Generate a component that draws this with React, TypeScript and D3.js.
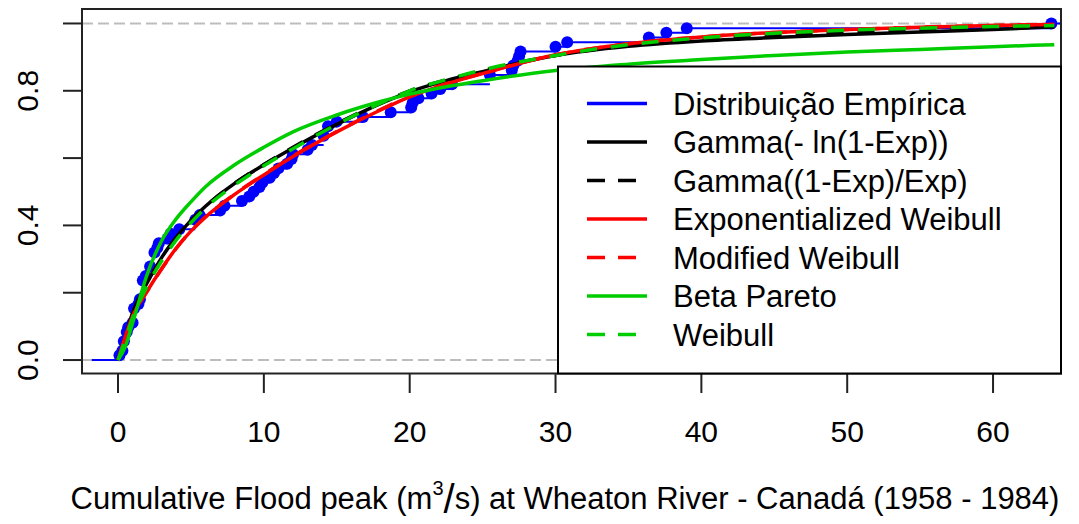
import React from 'react';
import * as d3 from 'd3';

// Wheaton River flood peaks (m^3/s), 1958-1984, sorted
const floodPeaks = [
  0.1, 0.3, 0.4, 0.4, 0.6, 0.6, 0.7, 1.0, 1.1, 1.1, 1.1, 1.4, 1.5, 1.7, 1.7, 1.7, 1.7, 1.9,
  2.2, 2.2, 2.5, 2.5, 2.5, 2.7, 2.8, 3.4, 3.6, 4.2, 5.3, 5.3, 5.6, 7.0, 7.3, 8.5, 9.0, 9.3,
  9.7, 9.9, 10.4, 10.7, 11.0, 11.6, 11.9, 12.0, 13.0, 13.3, 14.1, 14.1, 14.4, 14.4, 15.0, 16.8,
  18.7, 20.1, 20.2, 20.6, 21.5, 22.1, 22.9, 25.5, 25.5, 27.0, 27.1, 27.4, 27.5, 27.6, 30.0, 30.8,
  36.4, 37.6, 39.0, 64.0,
];

// fitted CDF curves
const curveX = [0, 0.5, 1, 2, 3, 4, 5, 6, 8, 10, 12, 15, 18, 20, 22.5, 25, 30, 35, 40, 45, 50, 55, 60, 64.2];
const gammaLn = [0, 0.07, 0.14, 0.23, 0.305, 0.365, 0.415, 0.457, 0.525, 0.58, 0.63, 0.7, 0.762, 0.797, 0.83, 0.857, 0.905, 0.932, 0.948, 0.958, 0.967, 0.975, 0.982, 0.99];
const gammaRatio = [0, 0.066, 0.135, 0.225, 0.3, 0.362, 0.413, 0.456, 0.525, 0.581, 0.632, 0.702, 0.764, 0.8, 0.832, 0.86, 0.905, 0.935, 0.952, 0.963, 0.972, 0.98, 0.985, 0.99];
const expWeibull = [0, 0.07, 0.13, 0.205, 0.272, 0.333, 0.383, 0.425, 0.492, 0.55, 0.605, 0.678, 0.743, 0.782, 0.82, 0.851, 0.907, 0.94, 0.96, 0.973, 0.982, 0.989, 0.994, 0.997];
const modWeibull = [0, 0.068, 0.128, 0.204, 0.271, 0.332, 0.383, 0.425, 0.493, 0.551, 0.606, 0.679, 0.744, 0.783, 0.821, 0.852, 0.907, 0.94, 0.96, 0.973, 0.982, 0.989, 0.994, 0.997];
const betaPareto = [0, 0.04, 0.11, 0.255, 0.355, 0.42, 0.47, 0.515, 0.58, 0.632, 0.678, 0.728, 0.768, 0.79, 0.812, 0.83, 0.86, 0.879, 0.893, 0.905, 0.915, 0.923, 0.931, 0.937];
const weibull = [0, 0.062, 0.125, 0.22, 0.295, 0.357, 0.408, 0.452, 0.52, 0.577, 0.628, 0.7, 0.763, 0.8, 0.833, 0.862, 0.905, 0.937, 0.957, 0.971, 0.98, 0.986, 0.991, 0.994];

const legendLabels = [
  'Distribuição Empírica',
  'Gamma(- ln(1-Exp))',
  'Gamma((1-Exp)/Exp)',
  'Exponentialized Weibull',
  'Modified Weibull',
  'Beta Pareto',
  'Weibull',
];
const legendColors = ['#0000FF', '#000000', '#000000', '#FF0000', '#FF0000', '#00CD00', '#00CD00'];
const legendDashed = [false, false, true, false, true, false, true];

const xTicks = [0, 10, 20, 30, 40, 50, 60];
const yTicks = [0, 0.2, 0.4, 0.6, 0.8, 1.0];
const yTickLabels = ['0.0', '', '0.4', '', '0.8', ''];

const W = 1079;
const H = 524;
const left = 82, right = 1061, top = 10, bottom = 373.5;

export default function App() {
  const x = d3.scaleLinear().domain([-2.47, 64.66]).range([left, right]);
  const y = d3.scaleLinear().domain([-0.04, 1.04]).range([bottom, top]);
  const n = floodPeaks.length;
  const uniq = Array.from(new Set(floodPeaks));
  const ecdfPts = uniq.map((v) => ({ v, p: floodPeaks.filter((d) => d <= v).length / n }));

  const line = d3
    .line<[number, number]>()
    .x((d) => x(d[0]))
    .y((d) => y(d[1]))
    .curve(d3.curveMonotoneX);

  const curves = [
    { data: gammaLn, color: '#000000', dash: undefined },
    { data: gammaRatio, color: '#000000', dash: '17,14' },
    { data: expWeibull, color: '#FF0000', dash: undefined },
    { data: modWeibull, color: '#FF0000', dash: '17,14' },
    { data: betaPareto, color: '#00CD00', dash: undefined },
    { data: weibull, color: '#00CD00', dash: '17,14' },
  ];

  const font = 'Liberation Sans, Arial, sans-serif';
  const legTop = 66.5;
  const legLeft = 558;
  const rowY = (i: number) => 103.5 + i * 38.5;

  return (
    <svg width={W} height={H} style={{ position: 'absolute', left: 0, top: 0, background: '#fff' }} fontFamily={font}>
      <defs>
        <clipPath id="plotclip">
          <rect x={left} y={top} width={right - left} height={bottom - top} />
        </clipPath>
      </defs>
      <g clipPath="url(#plotclip)">
        {[0, 1].map((v) => (
          <line key={v} x1={left} x2={right} y1={y(v)} y2={y(v)} stroke="#bdbdbd" strokeWidth={2} strokeDasharray="11,5" />
        ))}
        {/* ECDF steps */}
        <line x1={x(-1.8)} x2={x(floodPeaks[0])} y1={y(0)} y2={y(0)} stroke="#0000FF" strokeWidth={2} />
        {ecdfPts.map((d, i) => {
          const next = i < ecdfPts.length - 1 ? ecdfPts[i + 1].v : 64.66;
          return <line key={'s' + i} x1={x(d.v)} x2={x(next)} y1={y(d.p)} y2={y(d.p)} stroke="#0000FF" strokeWidth={2} />;
        })}
        {ecdfPts.map((d, i) => (
          <circle key={'p' + i} cx={x(d.v)} cy={y(d.p)} r={6} fill="#0000FF" />
        ))}
        {curves.map((c, i) => (
          <path
            key={'c' + i}
            d={line(curveX.map((v, j) => [v, c.data[j]] as [number, number])) || ''}
            fill="none"
            stroke={c.color}
            strokeWidth={3.5}
            strokeDasharray={c.dash}
          />
        ))}
      </g>
      {/* plot border */}
      <rect x={left} y={top - 1} width={right - left} height={bottom - top + 1} fill="none" stroke="#222" strokeWidth={2} />
      {/* x axis */}
      {xTicks.map((t) => (
        <g key={'xt' + t}>
          <line x1={x(t)} x2={x(t)} y1={bottom} y2={393} stroke="#222" strokeWidth={2} />
          <text x={x(t)} y={442} textAnchor="middle" fontSize={30} fill="#000">
            {t}
          </text>
        </g>
      ))}
      {/* y axis */}
      {yTicks.map((t, i) => (
        <g key={'yt' + i}>
          <line x1={63} x2={left} y1={y(t)} y2={y(t)} stroke="#222" strokeWidth={2} />
          {yTickLabels[i] && (
            <text transform={`translate(38,${y(t)}) rotate(-90)`} textAnchor="middle" fontSize={30} fill="#000">
              {yTickLabels[i]}
            </text>
          )}
        </g>
      ))}
      {/* x label */}
      <text x={565} y={509} textAnchor="middle" fontSize={31} fill="#000">
        Cumulative Flood peak (m
        <tspan fontSize={20} dy={-14}>3</tspan>
        <tspan fontSize={40} dy={18}>/</tspan>
        <tspan dy={-4}>s) at Wheaton River - Canadá (1958 - 1984)</tspan>
      </text>
      {/* legend */}
      <rect x={legLeft} y={legTop} width={right - legLeft} height={bottom - legTop} fill="#fff" stroke="#000" strokeWidth={2} />
      {legendLabels.map((lab, i) => (
        <g key={'l' + i}>
          <line
            x1={587}
            x2={legendDashed[i] ? 637 : 647}
            y1={rowY(i)}
            y2={rowY(i)}
            stroke={legendColors[i]}
            strokeWidth={3.5}
            strokeDasharray={legendDashed[i] ? '18,13' : undefined}
          />
          <text x={673} y={rowY(i)} dy="0.36em" fontSize={31} fill="#000">
            {lab}
          </text>
        </g>
      ))}
    </svg>
  );
}
